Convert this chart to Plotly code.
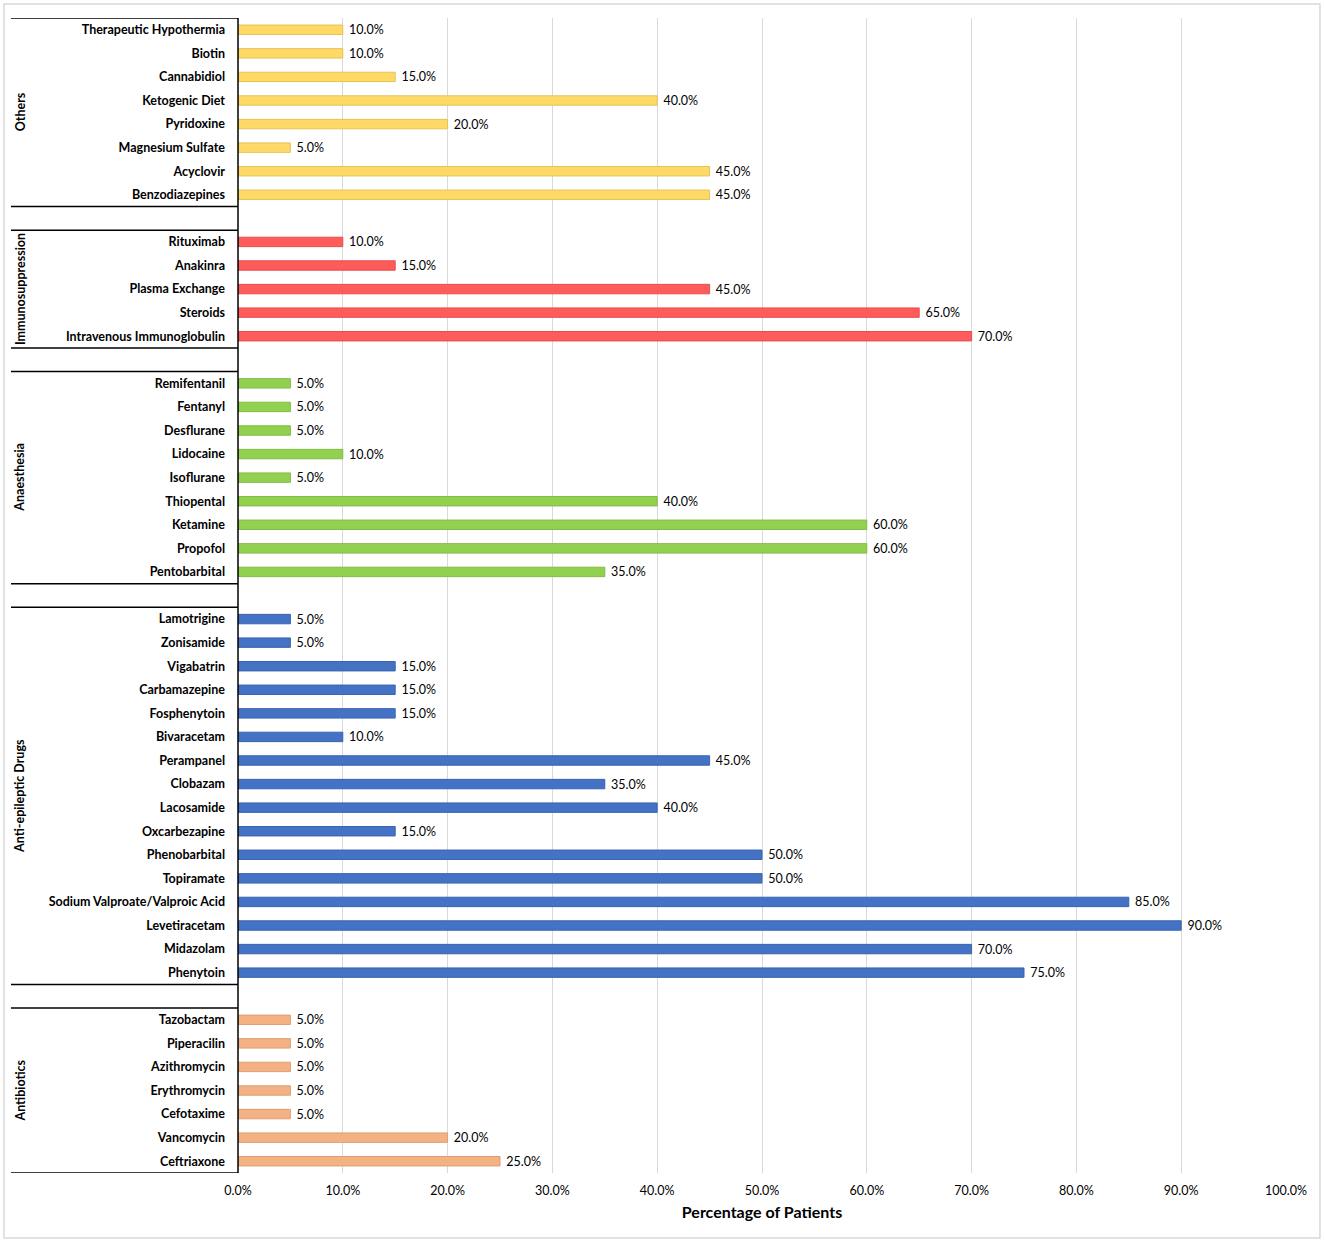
import plotly.graph_objects as go

# groups, top to bottom as drawn
group_names = ["Others", "Immunosuppression", "Anaesthesia", "Anti-epileptic Drugs", "Antibiotics"]
group_colors = ["#FFD966", "#FF5B5B", "#92D050", "#4472C4", "#F4B183"]
group_lines = ["#E6C25A", "#E64F4F", "#82BC45", "#3A64B0", "#DD9F73"]

others = ["Therapeutic Hypothermia", "Biotin", "Cannabidiol", "Ketogenic Diet", "Pyridoxine",
          "Magnesium Sulfate", "Acyclovir", "Benzodiazepines"]
others_pct = [10, 10, 15, 40, 20, 5, 45, 45]

immuno = ["Rituximab", "Anakinra", "Plasma Exchange", "Steroids", "Intravenous Immunoglobulin"]
immuno_pct = [10, 15, 45, 65, 70]

anaes = ["Remifentanil", "Fentanyl", "Desflurane", "Lidocaine", "Isoflurane", "Thiopental",
         "Ketamine", "Propofol", "Pentobarbital"]
anaes_pct = [5, 5, 5, 10, 5, 40, 60, 60, 35]

aed = ["Lamotrigine", "Zonisamide", "Vigabatrin", "Carbamazepine", "Fosphenytoin", "Bivaracetam",
       "Perampanel", "Clobazam", "Lacosamide", "Oxcarbezapine", "Phenobarbital", "Topiramate",
       "Sodium Valproate/Valproic Acid", "Levetiracetam", "Midazolam", "Phenytoin"]
aed_pct = [5, 5, 15, 15, 15, 10, 45, 35, 40, 15, 50, 50, 85, 90, 70, 75]

antib = ["Tazobactam", "Piperacilin", "Azithromycin", "Erythromycin", "Cefotaxime",
         "Vancomycin", "Ceftriaxone"]
antib_pct = [5, 5, 5, 5, 5, 20, 25]

x_ticks = [0, 10, 20, 30, 40, 50, 60, 70, 80, 90, 100]

groups = [(others, others_pct), (immuno, immuno_pct), (anaes, anaes_pct),
          (aed, aed_pct), (antib, antib_pct)]

FONT = "Lato"
fig = go.Figure()

tickvals, ticktext = [], []
spans = []
pos = 0
for gi, (labels, vals) in enumerate(groups):
    ys = list(range(pos, pos + len(labels)))
    spans.append((pos - 0.5, pos + len(labels) - 0.5))
    tickvals += ys
    ticktext += labels
    fig.add_trace(go.Bar(
        y=ys, x=[v / 100 for v in vals], orientation="h", width=0.4,
        marker=dict(color=group_colors[gi], line=dict(color=group_lines[gi], width=1)),
        text=["\u00a0" + f"{v:.1f}%" for v in vals], textposition="outside",
        constraintext="none",
        textfont=dict(family=FONT, size=12.5, color="#000000"),
        cliponaxis=False, showlegend=False, hoverinfo="skip",
    ))
    pos += len(labels) + 1  # blank row between groups

last_row = pos - 2

# left label block: separators and group names
x_left = -0.2166
for gi, (y0, y1) in enumerate(spans):
    for yy in (y0, y1):
        fig.add_shape(type="line", xref="paper", yref="y", x0=x_left, x1=0, y0=yy, y1=yy,
                      line=dict(color="#000000", width=1.5))
    fig.add_annotation(xref="paper", yref="y", x=-0.208, y=(y0 + y1) / 2,
                       xanchor="center", yanchor="middle",
                       text="<b>" + group_names[gi] + "</b>", textangle=-90, showarrow=False,
                       font=dict(family=FONT, size=12.5, color="#000000"))
fig.add_shape(type="line", xref="paper", yref="paper", x0=0, x1=0, y0=0, y1=1,
              line=dict(color="#000000", width=1.5))

# outer frame
fig.add_shape(type="rect", xref="paper", yref="paper", x0=-0.2233, x1=1.0324, y0=-0.0563, y1=1.0121,
              line=dict(color="#D9D9D9", width=1.5))

fig.update_layout(
    width=1325, height=1243,
    margin=dict(l=238, r=39, t=18, b=70),
    plot_bgcolor="white", paper_bgcolor="white",
    font=dict(family=FONT, size=12.5, color="#000000"),
    xaxis=dict(range=[0, 1], tickvals=[t / 100 for t in x_ticks],
               ticktext=[f"{t:.1f}%" for t in x_ticks],
               showgrid=True, gridcolor="#D9D9D9", gridwidth=1, zeroline=False,
               showline=False, ticks="", tickfont=dict(family=FONT, size=12.5),
               ticklabelstandoff=8,
               title=dict(text="<b>Percentage of Patients</b>", font=dict(family=FONT, size=16),
                          standoff=10)),
    yaxis=dict(range=[last_row + 0.5, -0.5], tickvals=tickvals, ticktext=ticktext,
               showgrid=False, zeroline=False, showline=False, ticks="",
               tickfont=dict(family=FONT, size=12.5, weight="bold"), ticklabelstandoff=12),
)

fig.write_html("out.html", config={"displayModeBar": False},
               post_script="document.body.style.margin='0';")
